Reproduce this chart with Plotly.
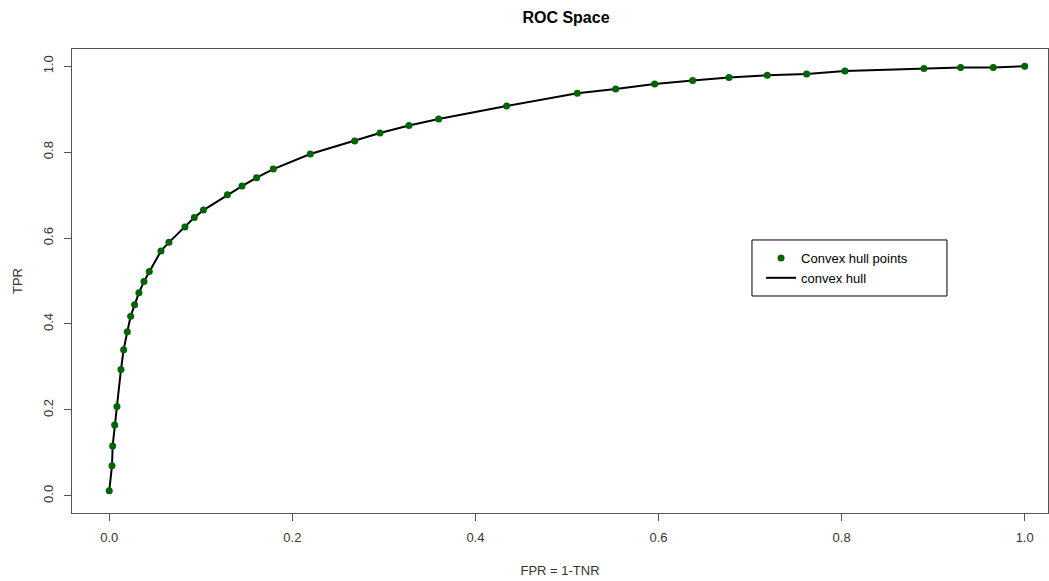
import plotly.graph_objects as go

# ROC convex hull vertices (false positive rate, true positive rate)
fpr = [0.000, 0.003, 0.0037, 0.0059, 0.0084, 0.0128, 0.0157, 0.0197, 0.0234, 0.0277,
       0.0324, 0.0379, 0.0437, 0.0565, 0.0652, 0.0827, 0.0929, 0.1029, 0.1291, 0.145,
       0.161, 0.1792, 0.2196, 0.2681, 0.2957, 0.3274, 0.3598, 0.4341, 0.5113, 0.5532,
       0.5958, 0.6373, 0.677, 0.7188, 0.7618, 0.8037, 0.890, 0.930, 0.9657, 1.000]
tpr = [0.012, 0.070, 0.116, 0.165, 0.208, 0.294, 0.340, 0.382, 0.418, 0.4445,
       0.4725, 0.4988, 0.522, 0.570, 0.590, 0.6254, 0.6476, 0.665, 0.701, 0.721,
       0.7406, 0.7606, 0.7956, 0.826, 0.8445, 0.8618, 0.8772, 0.9075, 0.937, 0.947,
       0.9588, 0.9666, 0.9736, 0.979, 0.982, 0.989, 0.9946, 0.997, 0.997, 1.000]

x_ticks = [0.0, 0.2, 0.4, 0.6, 0.8, 1.0]
y_ticks = [0.0, 0.2, 0.4, 0.6, 0.8, 1.0]

FONT = "Liberation Sans, Arial, sans-serif"
AXIS_GREY = "#555555"
TEXT_COL = "#333333"

fig = go.Figure()

fig.add_trace(go.Scatter(
    x=fpr, y=tpr, mode="lines", name="convex hull",
    line=dict(color="black", width=2), legendrank=2,
))
fig.add_trace(go.Scatter(
    x=fpr, y=tpr, mode="markers", name="Convex hull points",
    marker=dict(color="#006400", size=7, symbol="circle", line=dict(width=0)),
    legendrank=1,
))

axis_common = dict(
    showgrid=False, zeroline=False, showline=True, mirror=True,
    linecolor=AXIS_GREY, linewidth=1,
    ticks="outside", ticklen=7, tickwidth=1, tickcolor=AXIS_GREY,
    tickformat=".1f",
    tickfont=dict(family=FONT, size=13, color=TEXT_COL),
)

fig.update_xaxes(
    **axis_common,
    range=[-0.0407, 1.0255], tickvals=x_ticks,
    ticklabelstandoff=5,
    title=dict(text="FPR = 1-TNR", font=dict(family=FONT, size=13, color=TEXT_COL), standoff=22),
)
fig.update_yaxes(
    **axis_common,
    range=[-0.04, 1.04], tickvals=y_ticks, tickangle=-90,
    ticklabelstandoff=6,
    title=dict(text="TPR", font=dict(family=FONT, size=13, color=TEXT_COL), standoff=15),
)

# frame around the legend
fig.add_shape(
    type="rect", xref="paper", yref="paper",
    x0=0.6967, x1=0.8965, y0=0.4677, y1=0.5884,
    line=dict(color="black", width=1), fillcolor="rgba(0,0,0,0)", layer="above",
)

fig.update_layout(
    width=1049, height=581,
    margin=dict(l=72, r=1, t=49, b=68),
    paper_bgcolor="white", plot_bgcolor="white",
    title=dict(
        text="<b>ROC Space</b>", xref="container", x=566 / 1049, xanchor="center",
        yref="container", y=1 - 17 / 581, yanchor="middle",
        font=dict(family=FONT, size=16, color="black"),
    ),
    legend=dict(
        x=0.706, y=0.582, xanchor="left", yanchor="top",
        bgcolor="rgba(0,0,0,0)", borderwidth=0,
        font=dict(family=FONT, size=13, color="black"),
    ),
    showlegend=True,
)

fig.write_html("out.html")
